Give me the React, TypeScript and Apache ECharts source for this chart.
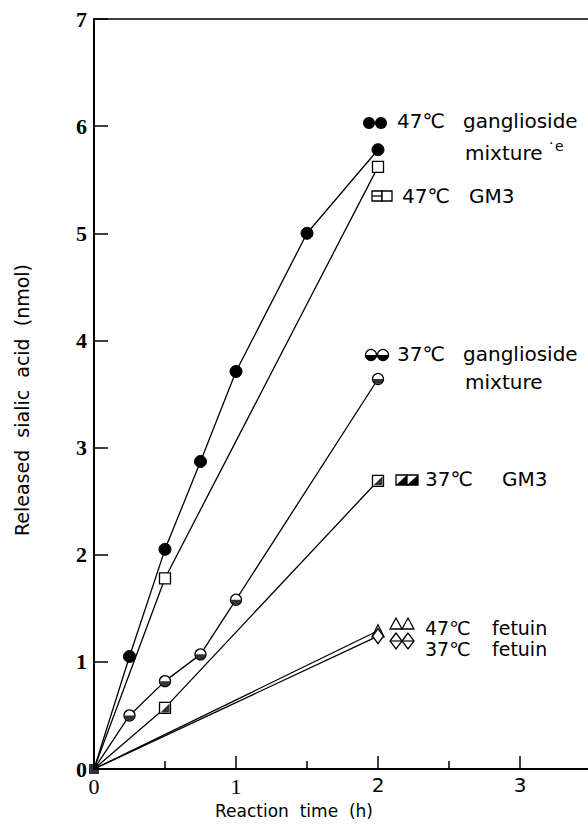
import React, { useEffect, useRef } from "react";
import * as echarts from "echarts";

// ---- data ----
const gangMix47X = [0, 0.25, 0.5, 0.75, 1, 1.5, 2];
const gangMix47Y = [0, 1.05, 2.05, 2.87, 3.71, 5.0, 5.78];
const gm347X = [0, 0.5, 2];
const gm347Y = [0, 1.78, 5.62];
const gangMix37X = [0, 0.25, 0.5, 0.75, 1, 2];
const gangMix37Y = [0, 0.5, 0.82, 1.07, 1.58, 3.64];
const gm337X = [0, 0.5, 2];
const gm337Y = [0, 0.57, 2.69];
const fetuin47X = [0, 2];
const fetuin47Y = [0, 1.29];
const fetuin37X = [0, 2];
const fetuin37Y = [0, 1.24];
const originX = [0];
const originY = [0];

const yTicks = [0, 1, 2, 3, 4, 5, 6, 7];
const xTickLabels = ["0", "1", "2", "3"];

const yTitle = "Released  sialic  acid  (nmol)";
const xTitle = "Reaction  time  (h)";

const pairs = (xs: number[], ys: number[]) => xs.map((x, i) => [x, ys[i]]);

const SANS = '"DejaVu Sans", "Liberation Sans", sans-serif';
const SERIF = '"Liberation Serif", "DejaVu Serif", serif';

const halfDisk = "path://M0,0 A1,1 0 0,0 2,0 Z";
const halfSquare = "path://M1,0 L1,1 L0,1 Z";

export default function App() {
  const ref = useRef<HTMLDivElement>(null);
  useEffect(() => {
    if (!ref.current) return;
    const chart = echarts.init(ref.current, undefined, { renderer: "svg" });
    const lineBase = (data: number[][], extra: any) => ({
      type: "line",
      data: data.map((d, i) => (i === 0 ? { value: d, symbol: "none" } : d)),
      lineStyle: { color: "#000", width: 1.3 },
      itemStyle: { color: "#fff", borderColor: "#000", borderWidth: 1.3 },
      showAllSymbol: true,
      z: 3,
      ...extra,
    });
    const t = (text: string, x: number, y: number, size = 20, font = SANS) => ({
      type: "text",
      x,
      y,
      z: 10,
      style: { text, font: `${size}px ${font}`, fill: "#000", align: "left", verticalAlign: "middle" },
    });
    const legendStroke = { fill: "#fff", stroke: "#000", lineWidth: 1.3 };
    const option: any = {
      animation: false,
      backgroundColor: "#fff",
      grid: { left: 94, top: 19, width: 497, height: 750, show: false, containLabel: false, outerBoundsMode: "none" },
      xAxis: [
        {
          type: "value",
          min: 0,
          max: 3.5,
          interval: 1,
          axisLine: { lineStyle: { color: "#000", width: 2 } },
          axisTick: { inside: true, length: 13, lineStyle: { color: "#000", width: 1.5 } },
          minorTick: { show: true, splitNumber: 2, length: 8, lineStyle: { color: "#000", width: 1.5 } },
          splitLine: { show: false },
          axisLabel: {
            margin: 6,
            showMaxLabel: false,
            formatter: (v: number) => {
              const s = xTickLabels[v];
              if (s === undefined) return "";
              return v >= 2 ? `{s|${s}}` : `{r|${s}}`;
            },
            rich: {
              s: { fontFamily: SANS, fontSize: 20, color: "#000" },
              r: { fontFamily: SERIF, fontSize: 22, color: "#000" },
            },
          },
        },
        {
          type: "value",
          position: "top",
          min: 0,
          max: 3.5,
          axisLine: { show: true, lineStyle: { color: "#000", width: 1.5 } },
          axisTick: { show: false },
          axisLabel: { show: false },
          splitLine: { show: false },
        },
      ],
      yAxis: {
        type: "value",
        min: 0,
        max: 7,
        interval: 1,
        axisLine: { show: true, lineStyle: { color: "#000", width: 2 } },
        axisTick: { show: true, inside: true, length: 14, lineStyle: { color: "#000", width: 1.5 } },
        splitLine: { show: false },
        axisLabel: {
          margin: 7,
          fontFamily: SERIF,
          fontSize: 22,
          fontWeight: "bold",
          color: "#000",
          formatter: (v: number) => (yTicks.includes(v) ? String(v) : ""),
        },
      },
      series: [
        lineBase(pairs(gangMix47X, gangMix47Y), { symbol: "circle", symbolSize: 12, itemStyle: { color: "#000", borderColor: "#000" } }),
        lineBase(pairs(gm347X, gm347Y), { symbol: "rect", symbolSize: 11 }),
        lineBase(pairs(gangMix37X, gangMix37Y), { symbol: "circle", symbolSize: 11 }),
        {
          type: "scatter",
          data: pairs(gangMix37X, gangMix37Y).slice(1),
          symbol: halfDisk,
          symbolSize: [10, 5],
          symbolOffset: [0, 2.5],
          itemStyle: { color: "#000" },
          z: 4,
        },
        lineBase(pairs(gm337X, gm337Y), { symbol: "rect", symbolSize: 11 }),
        {
          type: "scatter",
          data: pairs(gm337X, gm337Y).slice(1),
          symbol: halfSquare,
          symbolSize: 9,
          itemStyle: { color: "#000" },
          z: 4,
        },
        lineBase(pairs(fetuin47X, fetuin47Y), { symbol: "triangle", symbolSize: 12 }),
        lineBase(pairs(fetuin37X, fetuin37Y), { symbol: "diamond", symbolSize: [11, 15] }),
        {
          type: "scatter",
          data: pairs(originX, originY),
          symbol: "rect",
          symbolSize: 10,
          itemStyle: { color: "#000" },
          z: 5,
        },
      ],
      graphic: [
        // axis titles
        {
          type: "text",
          x: 22,
          y: 400,
          rotation: Math.PI / 2,
          style: { text: yTitle, font: `19px ${SANS}`, fill: "#000", align: "center", verticalAlign: "middle" },
        },
        {
          type: "text",
          x: 294,
          y: 811,
          style: { text: xTitle, font: `17px ${SANS}`, fill: "#000", align: "center", verticalAlign: "middle" },
        },
        // 47C ganglioside mixture
        { type: "circle", shape: { cx: 369, cy: 123, r: 6 }, style: { fill: "#000" }, z: 10 },
        { type: "circle", shape: { cx: 381, cy: 123, r: 6 }, style: { fill: "#000" }, z: 10 },
        t("47℃", 397, 121),
        t("ganglioside", 463, 121),
        t("mixture", 465, 153),
        t("·", 549, 143, 14),
        t("e", 555, 146, 14),
        // 47C GM3
        { type: "rect", shape: { x: 372, y: 191, width: 10, height: 10 }, style: legendStroke, z: 10 },
        { type: "rect", shape: { x: 382, y: 191, width: 10, height: 10 }, style: legendStroke, z: 10 },
        { type: "line", shape: { x1: 372, y1: 196, x2: 382, y2: 196 }, style: { stroke: "#000", lineWidth: 1.3 }, z: 10 },
        t("47℃", 402, 196),
        t("GM3", 469, 196),
        // 37C ganglioside mixture
        { type: "circle", shape: { cx: 371, cy: 355, r: 5.5 }, style: legendStroke, z: 10 },
        { type: "sector", shape: { cx: 371, cy: 355, r: 5.5, r0: 0, startAngle: 0, endAngle: Math.PI }, style: { fill: "#000" }, z: 11 },
        { type: "circle", shape: { cx: 383, cy: 355, r: 5.5 }, style: legendStroke, z: 10 },
        { type: "sector", shape: { cx: 383, cy: 355, r: 5.5, r0: 0, startAngle: 0, endAngle: Math.PI }, style: { fill: "#000" }, z: 11 },
        t("37℃", 397, 354),
        t("ganglioside", 463, 354),
        t("mixture", 465, 382),
        // 37C GM3
        { type: "rect", shape: { x: 396, y: 475, width: 11, height: 10 }, style: legendStroke, z: 10 },
        { type: "polygon", shape: { points: [[407, 475], [407, 485], [396, 485]] }, style: { fill: "#000" }, z: 11 },
        { type: "rect", shape: { x: 407, y: 475, width: 11, height: 10 }, style: legendStroke, z: 10 },
        { type: "polygon", shape: { points: [[418, 475], [418, 485], [407, 485]] }, style: { fill: "#000" }, z: 11 },
        t("37℃", 425, 479),
        t("GM3", 502, 479),
        // 47C fetuin
        { type: "polygon", shape: { points: [[396, 618], [390, 629], [402, 629]] }, style: legendStroke, z: 10 },
        { type: "polygon", shape: { points: [[408, 618], [402, 629], [414, 629]] }, style: legendStroke, z: 10 },
        t("47℃", 425, 628, 19),
        t("fetuin", 492, 628, 19),
        // 37C fetuin
        { type: "polygon", shape: { points: [[396, 633], [390, 641], [396, 649], [402, 641]] }, style: legendStroke, z: 10 },
        { type: "polygon", shape: { points: [[408, 633], [402, 641], [408, 649], [414, 641]] }, style: legendStroke, z: 10 },
        { type: "line", shape: { x1: 390, y1: 641, x2: 414, y2: 641 }, style: { stroke: "#000", lineWidth: 1.2 }, z: 11 },
        t("37℃", 425, 649, 19),
        t("fetuin", 492, 649, 19),
      ],
    };
    chart.setOption(option);
    return () => chart.dispose();
  }, []);
  return <div ref={ref} style={{ position: "absolute", left: 0, top: 0, width: 588, height: 833, background: "#fff" }} />;
}
